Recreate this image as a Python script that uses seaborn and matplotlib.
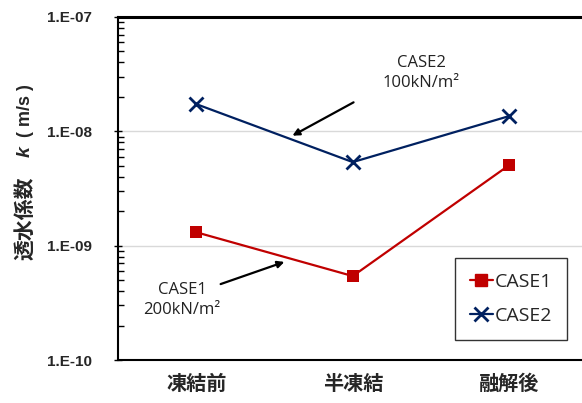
import matplotlib
matplotlib.use("Agg")
import matplotlib.pyplot as plt
import seaborn as sns
import pandas as pd
import numpy as np
from matplotlib.ticker import FixedLocator, FuncFormatter, LogLocator, NullFormatter
from matplotlib.lines import Line2D

categories = ["凍結前", "半凍結", "融解後"]
case1 = [1.31e-9, 5.42e-10, 5.07e-9]
case2 = [1.73e-8, 5.38e-9, 1.36e-8]
series_names = ["CASE1", "CASE2"]
yticks = [1e-10, 1e-9, 1e-8, 1e-7]

sns.set_theme(style="white")
plt.rcParams['font.family'] = ['Open Sans', 'Noto Sans CJK JP', 'DejaVu Sans']

df = pd.DataFrame({
    "cat": categories * 2,
    "x": list(range(len(categories))) * 2,
    "k": case1 + case2,
    "series": [series_names[0]] * 3 + [series_names[1]] * 3,
})

fig = plt.figure(figsize=(5.82, 4.03), dpi=100)
ax = fig.add_axes([118 / 582, 43 / 403, 469.5 / 582, 343 / 403])

palette = {"CASE1": "#C00000", "CASE2": "#002060"}
sns.lineplot(data=df, x="x", y="k", hue="series", palette=palette, ax=ax,
             linewidth=1.6, legend=False, zorder=3)
for name, mk, ms, mew in [("CASE1", "s", 9, 0), ("CASE2", "x", 10, 2.0)]:
    sub = df[df.series == name]
    ax.plot(sub.x, sub.k, linestyle="none", marker=mk, markersize=ms,
            color=palette[name], markeredgewidth=mew, markeredgecolor=palette[name], zorder=4)

ax.set_yscale("log")
ax.set_ylim(1e-10, 1e-7)
ax.set_xlim(-0.5, 2.5)
ax.yaxis.set_major_locator(FixedLocator(yticks))
ax.yaxis.set_major_formatter(FuncFormatter(lambda v, p: "1.E-%02d" % int(round(-np.log10(v)))))
ax.yaxis.set_minor_locator(LogLocator(base=10, subs=np.arange(2, 10)))
ax.yaxis.set_minor_formatter(NullFormatter())
ax.set_xticks(range(len(categories)))
ax.set_xticklabels(categories, fontfamily=['Noto Sans CJK JP'], fontweight='bold', fontsize=14.5)
for lab in ax.get_yticklabels():
    lab.set_fontweight('bold')
    lab.set_fontsize(11)
    lab.set_fontfamily(['Liberation Sans'])
ax.tick_params(axis='y', which='major', direction='inout', length=6, width=1, color='black', pad=16, left=True)
ax.tick_params(axis='y', which='minor', direction='in', length=4, width=1, color='black', left=True)
ax.tick_params(axis='x', length=0, pad=9)
ax.grid(axis='y', which='major', color='#D9D9D9', linewidth=1)
ax.set_xlabel("")
ax.set_ylabel("")
for s in ["left", "top", "bottom", "right"]:
    ax.spines[s].set_color("black")
    ax.spines[s].set_linewidth(1.5)
ax.spines["top"].set_linewidth(2.2)

# y label pieces
fig.text(25 / 582, 1 - 218 / 403, "透水係数", rotation=90, ha='center', va='center',
         fontfamily=['Noto Sans CJK JP'], fontweight='bold', fontsize=15)
fig.text(25 / 582, 1 - 152 / 403, "k", rotation=90, ha='center', va='center',
         fontfamily=['Liberation Sans'], fontweight='bold', fontstyle='italic', fontsize=14)
fig.text(25 / 582, 1 - 111 / 403, "( m/s )", rotation=90, ha='center', va='center',
         fontfamily=['Liberation Sans'], fontweight='bold', fontsize=13)

# annotations
ax.annotate("", xy=(290 / 582, 1 - 137 / 403), xytext=(356 / 582, 1 - 101 / 403),
            xycoords='figure fraction', textcoords='figure fraction',
            arrowprops=dict(arrowstyle='-|>', color='black', lw=1.6, mutation_scale=10))
fig.text(421 / 582, 1 - 73 / 403, "CASE2\n100kN/m²", ha='center', va='center',
         fontsize=12, linespacing=1.35, color='#222222')
ax.annotate("", xy=(287 / 582, 1 - 261 / 403), xytext=(218 / 582, 1 - 285 / 403),
            xycoords='figure fraction', textcoords='figure fraction',
            arrowprops=dict(arrowstyle='-|>', color='black', lw=1.6, mutation_scale=10))
fig.text(182 / 582, 1 - 300 / 403, "CASE1\n200kN/m²", ha='center', va='center',
         fontsize=12, linespacing=1.35, color='#222222')

# legend
handles = [Line2D([], [], color=palette["CASE1"], marker='s', markersize=9, lw=1.6),
           Line2D([], [], color=palette["CASE2"], marker='x', markersize=10, markeredgewidth=2, lw=1.6)]
leg = fig.legend(handles, series_names, loc='upper left',
                 bbox_to_anchor=(455 / 582, 1 - 258 / 403), bbox_transform=fig.transFigure,
                 fontsize=14, handlelength=1.2, handletextpad=0.1, labelspacing=0.85,
                 borderpad=0.75, fancybox=False, frameon=True, borderaxespad=0)
leg.get_frame().set_edgecolor('black')
leg.get_frame().set_linewidth(1.0)

fig.savefig("out.png", dpi=100)
